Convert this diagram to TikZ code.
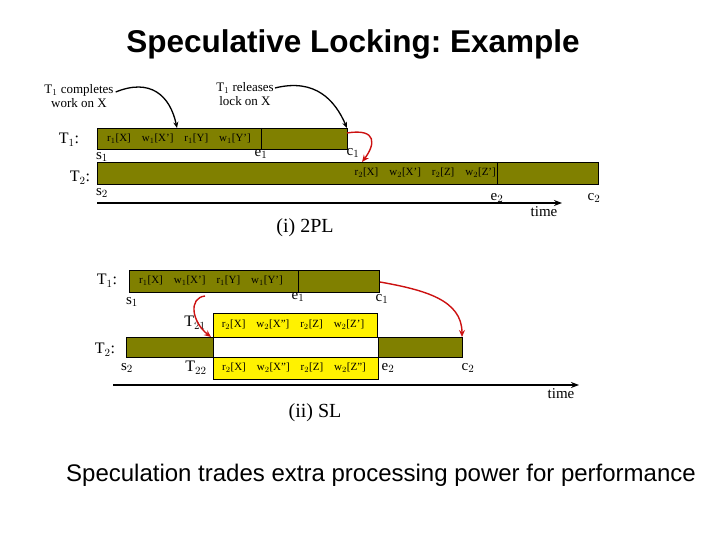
\documentclass[tikz,border=0pt]{standalone}
\usepackage{fontspec}
\setmainfont{Liberation Serif}
\setsansfont{Liberation Sans}
\usetikzlibrary{arrows.meta}
\definecolor{olivebar}{HTML}{808000}
\definecolor{redarr}{HTML}{CC1111}
\frenchspacing
\tikzset{
  bar/.style={draw=black, fill=olivebar, line width=0.7pt},
  ybox/.style={draw=black, fill=yellow, line width=0.7pt},
  ops/.style={font=\fontsize{11}{13}\selectfont, inner sep=0pt},
  lbl/.style={font=\fontsize{16}{18}\selectfont, inner sep=0pt},
  pt/.style={font=\fontsize{15}{17}\selectfont, inner sep=0pt},
  note/.style={font=\fontsize{13}{14}\selectfont, align=center, inner sep=0pt},
  blackarr/.style={-{Stealth[length=6pt,width=5pt]}, line width=1.3pt},
  redarrow/.style={-{Stealth[length=7pt,width=6pt]}, line width=1.4pt, draw=redarr},
  timearr/.style={-{Stealth[length=8pt,width=6pt]}, line width=1.6pt},
}
\begin{document}
\begin{tikzpicture}[x=1pt,y=-1pt]
\useasboundingbox (0,0) rectangle (720,540);
% title
\node[font=\sffamily\bfseries\fontsize{31.5}{34}\selectfont, inner sep=0pt] (title) at (353,44) {Speculative Locking: Example};
% ===== (i) 2PL =====
\node[note] (n1) at (79,96) {T$_1$ completes\\work on X};
\node[note] (n2) at (245,94) {T$_1$ releases\\lock on X};
\node[lbl] (aT1) at (69,140) {T$_1$:};
\draw[bar] (97,128) rectangle (347,149);
\coordinate (aT1top) at (177,128);
\coordinate (aT1tr) at (347,128);
\coordinate (aT1r) at (347,133);
\draw (261,128) -- (261,149);
\node[ops] (aT1ops) at (179,139) {r$_1$[X]\quad w$_1$[X']\quad r$_1$[Y]\quad w$_1$[Y']};
\node[pt] (as1) at (102,157) {s$_1$};
\node[pt] (ae1) at (261,154) {e$_1$};
\node[pt] (ac1) at (353,153) {c$_1$};
\draw[blackarr] (n1.east) ++(2,-4) coordinate (n1s) .. controls (150,78) and (170,95) .. (aT1top);
\draw[blackarr] (n2.east) ++(1,-6) coordinate (n2s) .. controls (315,78) and (335,100) .. (aT1tr);
\node[lbl] (aT2) at (80,178) {T$_2$:};
\draw[bar] (97,162) rectangle (598,184);
\draw (497,162) -- (497,184);
\coordinate (aT2top) at (362,162);
\draw[redarrow] (aT1r) .. controls (378,128) and (375,145) .. (aT2top);
\node[ops, anchor=east] (aT2ops) at (496,173) {r$_2$[X]\quad w$_2$[X']\quad r$_2$[Z]\quad w$_2$[Z']};
\node[pt] (as2) at (102,193) {s$_2$};
\node[pt] (ae2) at (497,198) {e$_2$};
\node[pt] (ac2) at (594,198) {c$_2$};
\coordinate (at0) at (97,203);
\coordinate (at1) at (562,203);
\draw[timearr] (at0) -- (at1);
\node[pt] (atime) at (544,212) {time};
\node[font=\fontsize{20}{22}\selectfont, inner sep=0pt] (cap1) at (305,228) {(i) 2PL};
% ===== (ii) SL =====
\node[lbl] (bT1) at (107,281) {T$_1$:};
\draw[bar] (129,270) rectangle (379,292);
\draw (298,270) -- (298,292);
\node[ops] (bT1ops) at (211,281) {r$_1$[X]\quad w$_1$[X']\quad r$_1$[Y]\quad w$_1$[Y']};
\node[pt] (bs1) at (132,302) {s$_1$};
\node[pt] (be1) at (298,297) {e$_1$};
\node[pt] (bc1) at (382,299) {c$_1$};
\node[lbl] (bT21) at (195,323) {T$_{21}$};
\draw[ybox] (213,313) rectangle (377,337);
\node[ops] (bT21ops) at (293,325) {r$_2$[X]\quad w$_2$[X"]\quad r$_2$[Z]\quad w$_2$[Z']};
\node[lbl] (bT2) at (105,350) {T$_2$:};
\draw[bar] (126,337) rectangle (213,357);
\draw[line width=0.7pt, fill=white] (213,337) rectangle (378,357);
\draw[bar] (378,337) rectangle (462,357);
\node[lbl] (bT22) at (196,368) {T$_{22}$};
\draw[ybox] (213,357) rectangle (378,379);
\node[ops] (bT22ops) at (294,368) {r$_2$[X]\quad w$_2$[X"]\quad r$_2$[Z]\quad w$_2$[Z"]};
\node[pt] (bs2) at (127,368) {s$_2$};
\node[pt] (be2) at (388,368) {e$_2$};
\node[pt] (bc2) at (468,368) {c$_2$};
\coordinate (ba0) at (205,296);
\coordinate (ba1) at (211,337);
\draw[redarrow] (ba0) .. controls (188,298) and (192,322) .. (ba1);
\coordinate (bb0) at (380,282);
\coordinate (bb1) at (462,337);
\draw[redarrow] (bb0) .. controls (425,290) and (462,300) .. (bb1);
\coordinate (bt0) at (113,385);
\coordinate (bt1) at (579,385);
\draw[timearr] (bt0) -- (bt1);
\node[pt] (btime) at (561,394) {time};
\node[font=\fontsize{20}{22}\selectfont, inner sep=0pt] (cap2) at (315,413) {(ii) SL};
% bottom
\node[font=\sffamily\fontsize{24}{28}\selectfont, inner sep=0pt] (bottom) at (381,475) {Speculation trades extra processing power for performance};
\end{tikzpicture}
\end{document}
